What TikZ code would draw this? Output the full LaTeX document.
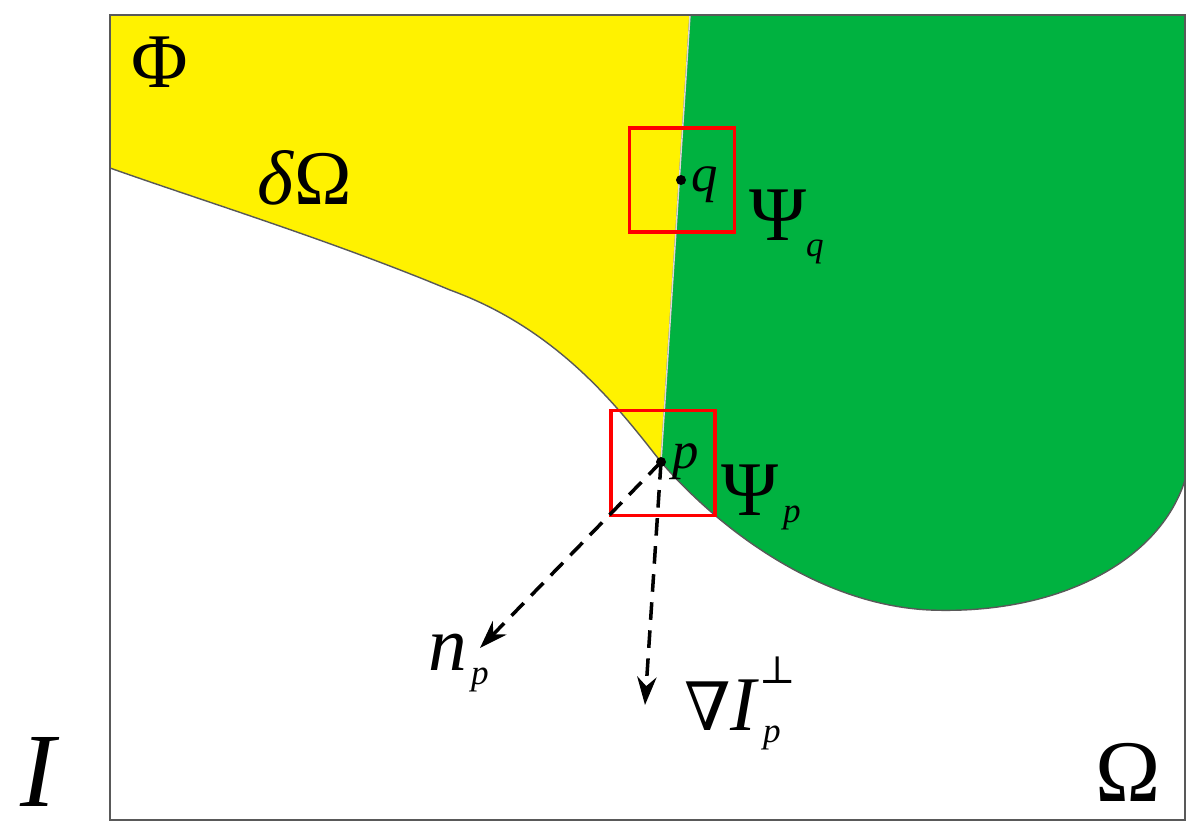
\documentclass[tikz,border=0pt]{standalone}
\usepackage{fontspec}
\setmainfont{Liberation Serif}
\newfontfamily\symf{DejaVu Serif}
\usetikzlibrary{arrows.meta}
\definecolor{yel}{RGB}{255,242,0}
\definecolor{grn}{RGB}{0,178,64}
\begin{document}
\begin{tikzpicture}[x=0.02cm,y=-0.02cm,
  big/.style={font=\fontsize{44}{48}\selectfont},
  mid/.style={font=\fontsize{30}{34}\selectfont},
  sm/.style={font=\fontsize{20}{24}\selectfont},
  redbox/.style={draw=red,line width=2pt},
  dashar/.style={dash pattern=on 10pt off 6pt,line width=2pt,-{Stealth[length=16pt,width=11pt]}}]
\useasboundingbox (0,0) rectangle (1195,835);
\fill[yel] (110,15) -- (690,15) -- (661,462) .. controls (620,410) and (560,330) .. (450,290) .. controls (330,240) and (200,200) .. (110,168) -- cycle;
\draw[gray!70!black,line width=0.8pt] (661,462) .. controls (620,410) and (560,330) .. (450,290) .. controls (330,240) and (200,200) .. (110,168);
\fill[grn,draw=gray!70!black,line width=0.8pt] (690,15) -- (1185,15) -- (1185,480) .. controls (1160,560) and (1060,615) .. (930,610) .. controls (820,605) and (720,530) .. (661,462) -- cycle;
\draw[white!70!gray,line width=0.8pt] (690,15) -- (661,462);
\draw[gray!70!black,line width=1pt] (110,15) rectangle (1185,820);
\node[redbox,minimum width=2.1cm,minimum height=2.08cm] (bq) at (682,180) {};
\node[redbox,minimum width=2.08cm,minimum height=2.1cm] (bp) at (663,463) {};
\fill (681,180) circle (5) coordinate (q);
\fill (661,462) circle (5) coordinate (p);
\coordinate (n) at (480,648);
\coordinate (g) at (645,705);
\draw[dashar] (p) -- (n);
\draw[dashar] (p) -- (g);
\node[big] at (160,62) {Φ};
\node[big] at (305,178) {\textit{δ}Ω};
\node[mid] at (705,185) {\textit{q}};
\node[big] at (778,215) {Ψ};
\node[sm] at (815,252) {\textit{q}};
\node[mid] at (686,462) {\textit{p}};
\node[big] at (750,490) {Ψ};
\node[sm] at (792,518) {\textit{p}};
\node[big] at (448,652) {\textit{n}};
\node[sm] at (480,680) {\textit{p}};
\node[big] at (722,705) {{\symf\fontsize{38}{40}\selectfont ∇}\textit{I}};
\node[sm] at (772,738) {\textit{p}};
\node[font=\symf\fontsize{22}{24}\selectfont] at (778,670) {⊥};
\node[font=\fontsize{60}{64}\selectfont] at (40,772) {\textit{I}};
\node[font=\fontsize{50}{54}\selectfont] at (1128,772) {Ω};
\end{tikzpicture}
\end{document}
